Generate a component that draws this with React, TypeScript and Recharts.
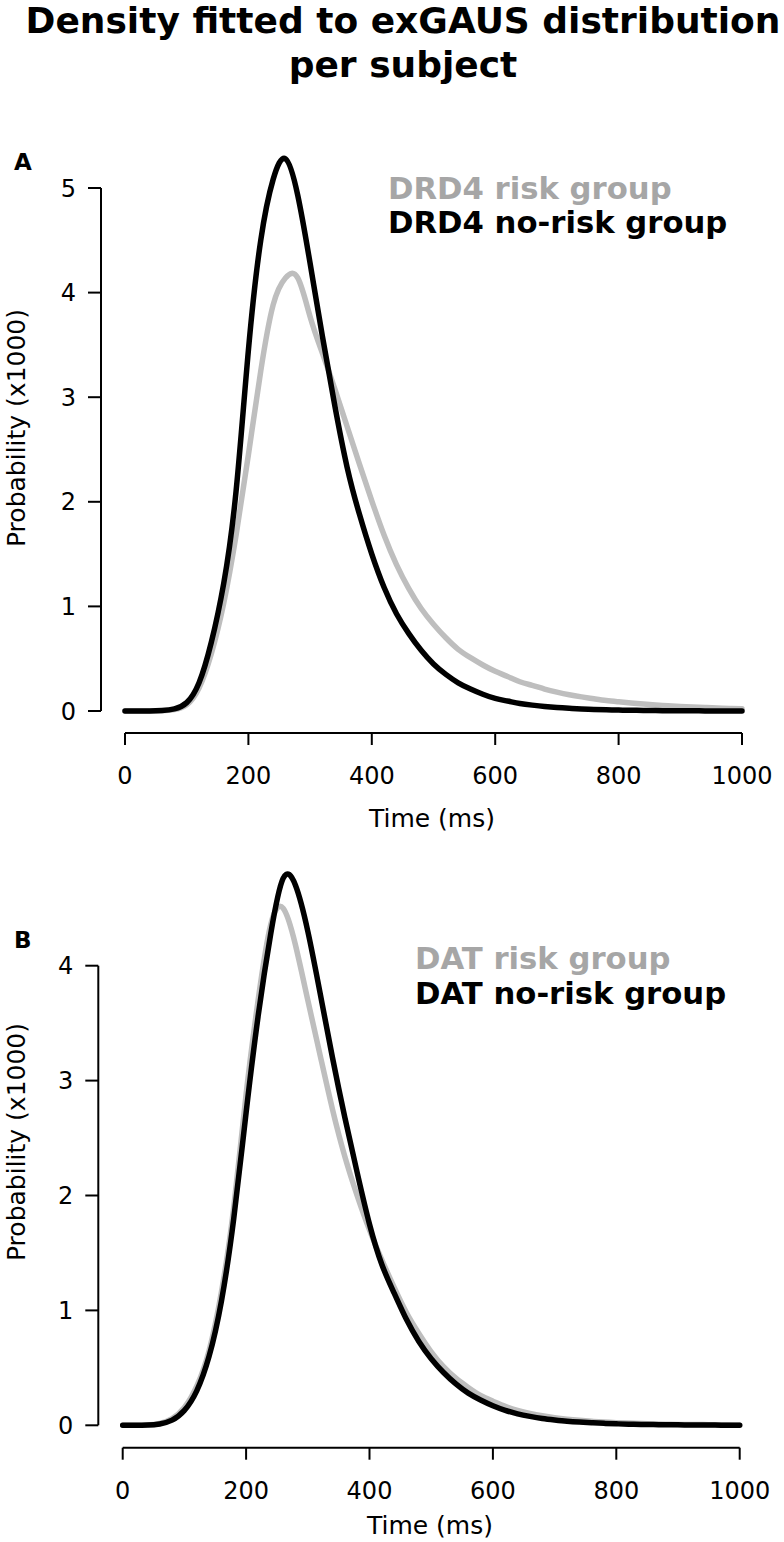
import { LineChart, Line, XAxis, YAxis } from "recharts";

// time grid (ms)
const timeMs = [
  0, 20, 40, 60, 80, 100, 120, 140, 160, 180, 200, 220, 240, 260, 280, 300, 320, 340, 360, 380, 400,
  420, 440, 460, 480, 500, 520, 540, 560, 580, 600, 620, 640, 660, 680, 700, 720, 740, 760, 780, 800,
  820, 840, 860, 880, 900, 920, 940, 960, 980, 1000,
];

// panel A: DRD4
const drd4Risk = [
  0, 0, 0, 0.003, 0.015, 0.06, 0.22, 0.55, 1.03, 1.68, 2.45, 3.25, 3.88, 4.14, 4.14, 3.77, 3.42, 3.08, 2.72, 2.36, 2.01,
  1.68, 1.4, 1.17, 0.98, 0.83, 0.7, 0.59, 0.51, 0.44, 0.38, 0.33, 0.28, 0.245, 0.21, 0.18, 0.155, 0.135, 0.117, 0.1, 0.088,
  0.077, 0.067, 0.058, 0.05, 0.044, 0.038, 0.033, 0.029, 0.025, 0.022,
];
const drd4NoRisk = [
  0, 0, 0, 0.005, 0.02, 0.08, 0.27, 0.66, 1.22, 2.1, 3.45, 4.5, 5.08, 5.28, 4.93, 4.28, 3.58, 2.92, 2.33, 1.88, 1.5,
  1.18, 0.93, 0.74, 0.58, 0.45, 0.35, 0.27, 0.21, 0.16, 0.12, 0.095, 0.072, 0.056, 0.043, 0.033, 0.026, 0.02, 0.015, 0.012, 0.009,
  0.007, 0.005, 0.004, 0.003, 0.002, 0.002, 0.001, 0.001, 0.001, 0.001,
];

// panel B: DAT
const datRisk = [
  0, 0, 0.003, 0.016, 0.058, 0.155, 0.34, 0.65, 1.16, 1.9, 2.88, 3.72, 4.36, 4.5, 4.18, 3.7, 3.22, 2.75, 2.34, 2.0, 1.7,
  1.44, 1.2, 0.98, 0.8, 0.64, 0.51, 0.41, 0.33, 0.26, 0.21, 0.165, 0.13, 0.104, 0.083, 0.066, 0.053, 0.043, 0.035, 0.028, 0.023,
  0.019, 0.015, 0.012, 0.01, 0.008, 0.007, 0.006, 0.005, 0.004, 0.003,
];
const datNoRisk = [
  0, 0, 0.002, 0.012, 0.045, 0.13, 0.3, 0.6, 1.08, 1.8, 2.72, 3.58, 4.28, 4.76, 4.7, 4.3, 3.76, 3.2, 2.68, 2.2, 1.75,
  1.4, 1.15, 0.92, 0.73, 0.58, 0.46, 0.36, 0.28, 0.22, 0.17, 0.13, 0.1, 0.078, 0.06, 0.047, 0.036, 0.028, 0.022, 0.017, 0.013,
  0.01, 0.008, 0.006, 0.005, 0.004, 0.003, 0.002, 0.002, 0.001, 0.001,
];

const xTicks = [0, 200, 400, 600, 800, 1000];
const yTicksA = [0, 1, 2, 3, 4, 5];
const yTicksB = [0, 1, 2, 3, 4];

const GREY_LINE = "#bebebe";
const GREY_TEXT = "#a6a6a6";

const dataA = timeMs.map((t, i) => ({ t, risk: drd4Risk[i], noRisk: drd4NoRisk[i] }));
const dataB = timeMs.map((t, i) => ({ t, risk: datRisk[i], noRisk: datNoRisk[i] }));

// R-style detached axes: shift only the axis/tick lines, labels get the offset in the tick renderer
const css = `
.panelA .recharts-xAxis .recharts-cartesian-axis-line,
.panelA .recharts-xAxis .recharts-cartesian-axis-tick-line { transform: translateY(22px); }
.panelA .recharts-yAxis .recharts-cartesian-axis-line,
.panelA .recharts-yAxis .recharts-cartesian-axis-tick-line { transform: translateX(-24px); }
.panelB .recharts-xAxis .recharts-cartesian-axis-line,
.panelB .recharts-xAxis .recharts-cartesian-axis-tick-line { transform: translateY(22.4px); }
.panelB .recharts-yAxis .recharts-cartesian-axis-line,
.panelB .recharts-yAxis .recharts-cartesian-axis-tick-line { transform: translateX(-24.4px); }
.panel * { clip-path: none !important; }
`;

function XTick({ x, y, payload, shift }: any) {
  return (
    <text x={x} y={y + shift} textAnchor="middle" dy="0.71em" fontSize={24} fill="#000">
      {payload.value}
    </text>
  );
}

function YTick({ x, y, payload, shift }: any) {
  return (
    <text x={x - shift} y={y} textAnchor="end" dy="0.355em" fontSize={24} fill="#000">
      {payload.value}
    </text>
  );
}

interface PanelProps {
  cls: string;
  top: number;
  height: number;
  data: { t: number; risk: number; noRisk: number }[];
  yTicks: number[];
  margin: { top: number; right: number; bottom: number; left: number };
  xAxisHeight: number;
  xShift: number;
  yShift: number;
}

function Panel({ cls, top, height, data, yTicks, margin, xAxisHeight, xShift, yShift }: PanelProps) {
  const axisStyle = { stroke: "#000", strokeWidth: 2 };
  return (
    <div className={`panel ${cls}`} style={{ position: "absolute", left: 0, top, width: 784, height }}>
      <LineChart width={784} height={height} data={data} margin={margin}>
        <XAxis
          dataKey="t"
          type="number"
          domain={[0, 1000]}
          ticks={xTicks}
          height={xAxisHeight}
          axisLine={axisStyle}
          tickLine={axisStyle}
          tickSize={12}
          tickMargin={22}
          tick={<XTick shift={xShift} />}
          interval={0}
        />
        <YAxis
          type="number"
          domain={[0, yTicks[yTicks.length - 1]]}
          allowDataOverflow
          ticks={yTicks}
          width={60}
          axisLine={axisStyle}
          tickLine={axisStyle}
          tickSize={13}
          tickMargin={12}
          tick={<YTick shift={yShift} />}
          interval={0}
        />
        <Line
          dataKey="risk"
          type="natural"
          stroke={GREY_LINE}
          strokeWidth={5.5}
          strokeLinecap="round"
          dot={false}
          isAnimationActive={false}
        />
        <Line
          dataKey="noRisk"
          type="natural"
          stroke="#000"
          strokeWidth={5.5}
          strokeLinecap="round"
          dot={false}
          isAnimationActive={false}
        />
      </LineChart>
    </div>
  );
}

export default function App() {
  return (
    <div
      style={{
        position: "absolute",
        left: 0,
        top: 0,
        width: 784,
        height: 1542,
        background: "#fff",
        fontFamily: "'DejaVu Sans', sans-serif",
      }}
    >
      <style>{css}</style>
      <Panel
        cls="panelA"
        top={100}
        height={760}
        data={dataA}
        yTicks={yTicksA}
        margin={{ top: 88, right: 42, bottom: 49, left: 65 }}
        xAxisHeight={100}
        xShift={22}
        yShift={24}
      />
      <Panel
        cls="panelB"
        top={860}
        height={682}
        data={dataB}
        yTicks={yTicksB}
        margin={{ top: 105.7, right: 44.3, bottom: 36.7, left: 62.7 }}
        xAxisHeight={80}
        xShift={22.4}
        yShift={24.4}
      />
      <svg
        width={784}
        height={1542}
        style={{ position: "absolute", left: 0, top: 0, pointerEvents: "none" }}
      >
        <g fontWeight="bold" fontSize={36} textAnchor="middle" fill="#000">
          <text x={403} y={33}>Density fitted to exGAUS distribution</text>
          <text x={403} y={77}>per subject</text>
        </g>
        <g fontWeight="bold" fontSize={23} fill="#000">
          <text x={14} y={170}>A</text>
          <text x={14} y={948}>B</text>
        </g>
        <g fontSize={25} fill="#000" textAnchor="middle">
          <text x={432} y={827}>Time (ms)</text>
          <text x={430} y={1534}>Time (ms)</text>
          <text transform="translate(25 428) rotate(-90)">Probability (x1000)</text>
          <text transform="translate(25 1142) rotate(-90)">Probability (x1000)</text>
        </g>
        <g fontWeight="bold" fontSize={30.7}>
          <text x={388} y={199} fill={GREY_TEXT}>DRD4 risk group</text>
          <text x={388} y={233} fill="#000">DRD4 no-risk group</text>
          <text x={415} y={969} fill={GREY_TEXT}>DAT risk group</text>
          <text x={415} y={1004} fill="#000">DAT no-risk group</text>
        </g>
      </svg>
    </div>
  );
}
